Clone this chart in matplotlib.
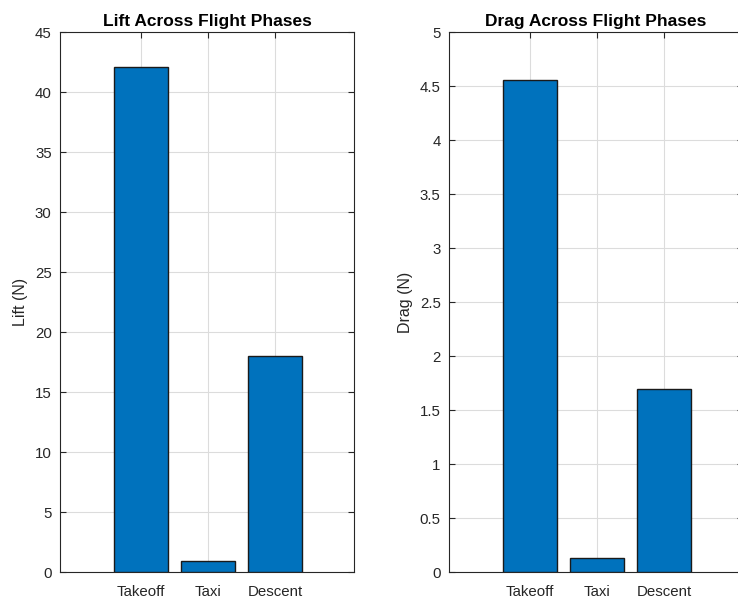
import matplotlib
matplotlib.use("Agg")
import matplotlib.pyplot as plt
import numpy as np

phases = ["Takeoff", "Taxi", "Descent"]
lift = [42.1, 0.95, 18.0]
drag = [4.56, 0.13, 1.69]

plt.rcParams['font.family'] = ['Liberation Sans', 'DejaVu Sans']

fig = plt.figure(figsize=(7.38, 6.03), dpi=100)
W, H = 738, 603

def make_ax(x0, data, ylim, yticks, ylabel, title):
    ax = fig.add_axes([x0 / W, 31 / H, 294 / W, 540 / H])
    x = np.arange(1, len(phases) + 1)
    ax.bar(x, data, width=0.8, color='#0072BD', edgecolor='#1a1a1a', linewidth=1.0, zorder=3)
    ax.set_xlim(-0.2, 4.17)
    ax.set_ylim(*ylim)
    ax.set_xticks(x)
    ax.set_xticklabels(phases)
    ax.set_yticks(yticks)
    ax.set_yticklabels([('%g' % v) for v in yticks])
    ax.grid(True, color='#dcdcdc', linewidth=0.8, zorder=0)
    ax.set_axisbelow(True)
    ax.tick_params(direction='in', top=True, right=True, length=4, width=0.8,
                   labelsize=10.8, colors='#262626', pad=6)
    ax.tick_params(axis='x', pad=9)
    for s in ax.spines.values():
        s.set_color('#262626')
        s.set_linewidth(0.8)
    ax.set_ylabel(ylabel, fontsize=11.5, color='#262626', labelpad=5)
    ax.set_title(title, fontsize=12.5, fontweight='bold', color='#000000', pad=4)
    return ax

make_ax(60, lift, (0, 45), list(range(0, 46, 5)), "Lift (N)", "Lift Across Flight Phases")
make_ax(449, drag, (0, 5), [i * 0.5 for i in range(11)], "Drag (N)", "Drag Across Flight Phases")

fig.savefig("out.png", dpi=100)
